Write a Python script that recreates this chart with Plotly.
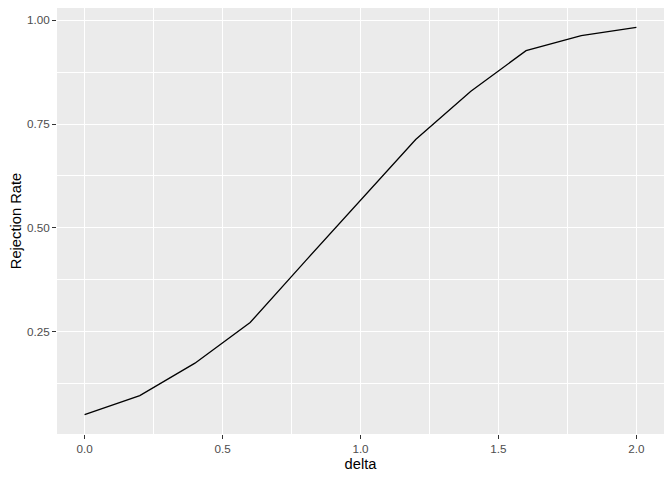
import plotly.graph_objects as go

# power curve
delta = [0.0, 0.2, 0.4, 0.6, 0.8, 1.0, 1.2, 1.4, 1.6, 1.8, 2.0]
rejection_rate = [0.050, 0.096, 0.174, 0.272, 0.420, 0.567, 0.713, 0.829, 0.927, 0.963, 0.983]

x_ticks = [0.0, 0.5, 1.0, 1.5, 2.0]
y_ticks = [0.25, 0.50, 0.75, 1.00]

FONT = "Liberation Sans, Arial, sans-serif"

fig = go.Figure(go.Scatter(
    x=delta, y=rejection_rate,
    mode="lines",
    line=dict(color="black", width=1.3),
    hoverinfo="skip",
))

# ggplot-ish expansion of 5% on each side
xr = max(delta) - min(delta)
yr = max(rejection_rate) - min(rejection_rate)

axis_common = dict(
    showgrid=True, gridcolor="white", gridwidth=1.3,
    zeroline=False, showline=False, automargin=False,
    ticks="outside", ticklen=4, tickwidth=1, tickcolor="#333333",
    tickfont=dict(family=FONT, size=11.7, color="#4D4D4D"),
)

fig.update_xaxes(
    range=[min(delta) - 0.05 * xr, max(delta) + 0.05 * xr],
    tickvals=x_ticks, ticktext=[f"{v:.1f}" for v in x_ticks],
    minor=dict(tick0=0.25, dtick=0.5, showgrid=True, gridcolor="white", gridwidth=0.6),
    title=dict(text="delta", font=dict(family=FONT, size=14.7, color="black"), standoff=4),
    **axis_common,
)
fig.update_yaxes(
    range=[min(rejection_rate) - 0.05 * yr, max(rejection_rate) + 0.05 * yr],
    tickvals=y_ticks, ticktext=[f"{v:.2f}" for v in y_ticks],
    minor=dict(tick0=0.125, dtick=0.25, showgrid=True, gridcolor="white", gridwidth=0.6),
    title=dict(text="Rejection Rate", font=dict(family=FONT, size=14.7, color="black"), standoff=4),
    **axis_common,
)

# the page body adds an 8px offset, so the figure is sized to fit inside it
fig.update_layout(
    width=656, height=464,
    plot_bgcolor="#EBEBEB", paper_bgcolor="white",
    margin=dict(l=49, r=0, t=0, b=38),
    showlegend=False,
)

fig.write_html("out.html")
